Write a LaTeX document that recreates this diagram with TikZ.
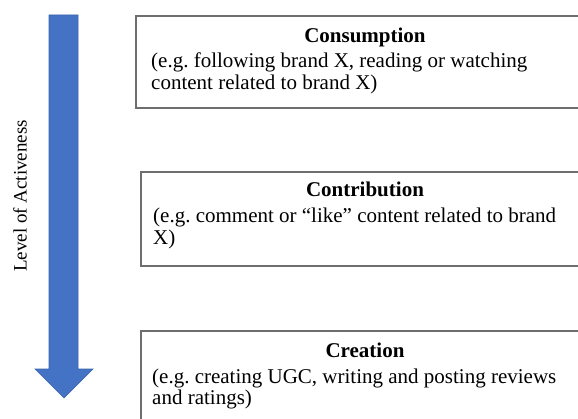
\documentclass[tikz,border=0pt]{standalone}
\usepackage{fontspec}
\setmainfont{Liberation Serif}
\frenchspacing
\definecolor{arrowblue}{HTML}{4472C4}
\definecolor{arrowedge}{HTML}{3A64B0}
\definecolor{boxline}{HTML}{6E6E6E}
\tikzset{
  levelbox/.style={draw=boxline, line width=1.4pt, fill=white},
  boxtitle/.style={font=\fontsize{21}{23}\selectfont\bfseries, anchor=base, inner sep=0pt},
  boxbody/.style={font=\fontsize{21}{21.5}\selectfont, anchor=base west, align=left, inner sep=0pt},
  axislabel/.style={font=\fontsize{19}{22}\selectfont, rotate=90, inner sep=0pt}
}
\begin{document}
\begin{tikzpicture}[x=1pt,y=-1pt]
  \useasboundingbox (0,0) rectangle (578,419);
  \clip (0,0) rectangle (578,419);
  \fill[white] (0,0) rectangle (578,419);

  % downward block arrow
  \filldraw[fill=arrowblue, draw=arrowedge, line width=0.6pt]
    (49,15) -- (78,15) -- (78,369) -- (93,369) -- (64,398) -- (35,369) -- (49,369) -- cycle;
  \node[axislabel] (axis) at (20,196) {Level of Activeness};

  % the three levels; boxes run past the right edge
  % (body nodes are placed by the baseline of their last line)
  \draw[levelbox] (136,16) rectangle (596,108);
  \node[boxtitle] (t1) at (365,43) {Consumption};
  \node[boxbody] (b1) at (151,89.5) {(e.g. following brand X, reading or watching\\content related to brand X)};

  \draw[levelbox] (141,172) rectangle (596,266);
  \node[boxtitle] (t2) at (365,197) {Contribution};
  \node[boxbody] (b2) at (153,244.5) {(e.g. comment or ``like'' content related to brand\\X)};

  \draw[levelbox] (141,331) rectangle (596,440);
  \node[boxtitle] (t3) at (365,357) {Creation};
  \node[boxbody] (b3) at (152,404.5) {(e.g. creating UGC, writing and posting reviews\\and ratings)};
\end{tikzpicture}
\end{document}
